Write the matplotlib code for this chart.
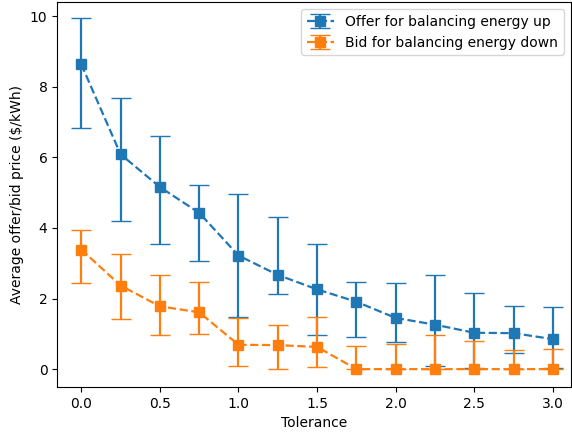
import numpy as np
import matplotlib
matplotlib.use("Agg")
import matplotlib.pyplot as plt

tolerance = [0.0, 0.25, 0.5, 0.75, 1.0, 1.25, 1.5, 1.75, 2.0, 2.25, 2.5, 2.75, 3.0]

# offer for balancing energy up
up_mean = [8.64, 6.09, 5.16, 4.43, 3.22, 2.67, 2.26, 1.91, 1.45, 1.26, 1.03, 1.02, 0.85]
up_low = [6.83, 4.19, 3.54, 3.07, 1.48, 2.12, 0.96, 0.90, 0.78, 0.08, 0.02, 0.46, 0.02]
up_high = [9.94, 7.68, 6.60, 5.23, 4.96, 4.31, 3.55, 2.46, 2.44, 2.67, 2.17, 1.78, 1.75]

# bid for balancing energy down
down_mean = [3.39, 2.37, 1.78, 1.61, 0.69, 0.68, 0.63, 0.0, 0.0, 0.0, 0.0, 0.0, 0.0]
down_low = [2.44, 1.43, 0.96, 1.00, 0.08, 0.0, 0.06, 0.0, 0.0, 0.0, 0.0, 0.0, 0.0]
down_high = [3.94, 3.25, 2.68, 2.47, 1.45, 1.26, 1.48, 0.65, 0.70, 0.97, 0.79, 0.54, 0.57]

up_err = [np.array(up_mean) - np.array(up_low), np.array(up_high) - np.array(up_mean)]
down_err = [np.array(down_mean) - np.array(down_low), np.array(down_high) - np.array(down_mean)]

fig, ax = plt.subplots(figsize=(5.72, 4.34), dpi=100)
fig.subplots_adjust(left=0.1, right=0.998, top=0.995, bottom=0.108)

ax.errorbar(tolerance, up_mean, yerr=up_err, fmt='s--', color='#1f77b4',
            capsize=7, markersize=7, linewidth=1.6, elinewidth=1.6,
            label='Offer for balancing energy up')
ax.errorbar(tolerance, down_mean, yerr=down_err, fmt='s--', color='#ff7f0e',
            capsize=7, markersize=7, linewidth=1.6, elinewidth=1.6,
            label='Bid for balancing energy down')

ax.set_xlim(-0.153, 3.114)
ax.set_ylim(-0.51, 10.40)
ax.set_xticks([0.0, 0.5, 1.0, 1.5, 2.0, 2.5, 3.0])
ax.set_yticks([0, 2, 4, 6, 8, 10])
ax.tick_params(labelsize=10)
ax.set_xlabel('Tolerance', fontsize=10)
ax.set_ylabel('Average offer/bid price ($/kWh)', fontsize=10)
ax.legend(loc='upper right', fontsize=10)

fig.savefig('out.png', dpi=100)
